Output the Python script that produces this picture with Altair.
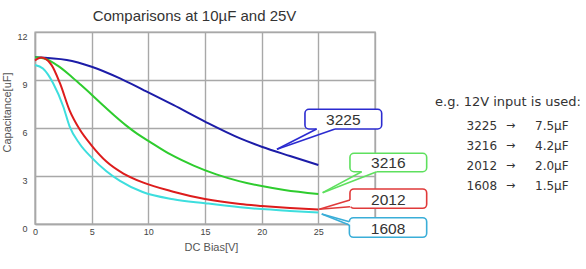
import altair as alt
import pandas as pd

# ---- curve data (DC bias [V] -> capacitance [uF]) ----
series_names = ["3225", "3216", "2012", "1608"]
series_colors = ["#1c1ca8", "#2ecc2e", "#dd1c1c", "#3ddede"]

v_3225 = [0, 2.8, 5, 7.5, 9.5, 12.2, 15, 18.1, 20, 22.5, 25]
c_3225 = [10.42, 10.25, 9.83, 9.1, 8.4, 7.44, 6.4, 5.35, 4.83, 4.25, 3.69]

v_3216 = [0, 1, 2, 3, 4, 5, 6, 7, 8, 9, 10, 12, 14, 16, 18, 20, 22, 25]
c_3216 = [10.42, 10.3, 9.9, 9.35, 8.72, 8.08, 7.42, 6.78, 6.18, 5.65, 5.2, 4.33, 3.65, 3.1, 2.68, 2.37, 2.13, 1.88]

v_2012 = [0, 0.55, 1.45, 2.2, 3.05, 3.95, 5, 6.3, 7.8, 9.5, 12.2, 15, 18.1, 20, 22.5, 25]
c_2012 = [10.22, 10.4, 9.95, 8.8, 7.1, 5.9, 4.9, 3.9, 3.15, 2.6, 2.02, 1.56, 1.25, 1.13, 1.0, 0.9]

v_1608 = [0, 0.7, 1.6, 2.5, 3.05, 3.95, 5, 6.3, 7.5, 9.5, 12.2, 15, 18.1, 20, 22.5, 25]
c_1608 = [9.94, 9.72, 8.8, 7.33, 6.1, 5.0, 4.15, 3.3, 2.7, 2.0, 1.55, 1.3, 1.05, 0.93, 0.82, 0.72]

x_ticks = [0, 5, 10, 15, 20, 25, 30]
y_ticks = [0, 3, 6, 9, 12]

# ---- callouts (in data units) ----
box_colors = ["#2b2bd0", "#5ee05e", "#e03a3a", "#3aaed8"]
box_x1 = [23.82, 27.79, 27.79, 27.74]
box_x2 = [30.59, 34.56, 34.56, 34.56]
box_top = [7.17, 4.42, 2.19, 0.39]
box_bot = [5.94, 3.27, 0.98, -0.83]
tip_x = [21.35, 25.38, 25.08, 25.3]
tip_y = [4.67, 1.96, 0.92, 0.625]
base1_x = [24.85, 28.82, 27.79, 27.74]
base1_y = [5.94, 3.27, 1.50, 0.14]
base2_x = [26.47, 30.15, 27.79, 27.74]
base2_y = [5.94, 3.27, 1.08, -0.06]

# ---- right-hand note ----
note_title = "e.g. 12V input is used:"
note_sizes = ["3225", "3216", "2012", "1608"]
note_values = ["7.5µF", "4.2µF", "2.0µF", "1.5µF"]

rows = []
for name, vs, cs in [("3225", v_3225, c_3225), ("3216", v_3216, c_3216),
                     ("2012", v_2012, c_2012), ("1608", v_1608, c_1608)]:
    for v, c in zip(vs, cs):
        rows.append({"series": name, "V": v, "C": c})
curves = pd.DataFrame(rows)

boxes = pd.DataFrame({"label": series_names, "color": box_colors,
                      "x1": box_x1, "x2": box_x2, "y1": box_top, "y2": box_bot})
boxes["xc"] = (boxes["x1"] + boxes["x2"]) / 2
boxes["yc"] = (boxes["y1"] + boxes["y2"]) / 2

seg_rows = []
cover_rows = []
for i in range(4):
    seg_rows.append({"x": base1_x[i], "y": base1_y[i], "x2": tip_x[i], "y2": tip_y[i], "color": box_colors[i]})
    seg_rows.append({"x": base2_x[i], "y": base2_y[i], "x2": tip_x[i], "y2": tip_y[i], "color": box_colors[i]})
    cover_rows.append({"x": base1_x[i], "y": base1_y[i], "x2": base2_x[i], "y2": base2_y[i]})
segs = pd.DataFrame(seg_rows)
covers = pd.DataFrame(cover_rows)

xscale = alt.Scale(domain=[0, 30], nice=False, zero=False)
yscale = alt.Scale(domain=[0, 12], nice=False, zero=False)

FONT = "Liberation Sans"

lines = alt.Chart(curves).mark_line(interpolate="monotone", strokeWidth=2).encode(
    x=alt.X("V:Q", scale=xscale, axis=alt.Axis(
        values=x_ticks, title="DC Bias[V]", grid=True, gridColor="#a8a8a8", gridWidth=1.4,
        domainColor="#a8a8a8", domainWidth=1.4, tickSize=0, labelPadding=3,
        labelFontSize=9, labelColor="#444", labelFont=FONT, labelFlush=False,
        labelExpr="datum.value == 30 ? '' : datum.label",
        titleFont=FONT, titleFontSize=11, titleFontWeight="normal", titleColor="#555",
        titleX=176, titleY=26.5, titleBaseline="alphabetic")),
    y=alt.Y("C:Q", scale=yscale, axis=alt.Axis(
        values=y_ticks, title="Capacitance[uF]", grid=True, gridColor="#a8a8a8", gridWidth=1.4,
        domainColor="#a8a8a8", domainWidth=1.4, tickSize=0, labelPadding=8,
        labelFontSize=9, labelColor="#444", labelFont=FONT, labelBaseline="top",
        labelFlush=False,
        titleFont=FONT, titleFontSize=11, titleFontWeight="normal", titleColor="#555",
        titleX=-28, titleY=80, titleAngle=270, titleAlign="center", titleBaseline="middle")),
    color=alt.Color("series:N", scale=alt.Scale(domain=series_names, range=series_colors), legend=None),
)

rects = alt.Chart(boxes).mark_rect(fill="white", strokeWidth=1.6, cornerRadius=4).encode(
    x=alt.X("x1:Q", scale=xscale), x2="x2:Q",
    y=alt.Y("y1:Q", scale=yscale), y2="y2:Q",
    stroke=alt.Stroke("color:N", scale=None),
)

cover = alt.Chart(covers).mark_rule(color="white", strokeWidth=2.6).encode(
    x=alt.X("x:Q", scale=xscale), x2="x2:Q",
    y=alt.Y("y:Q", scale=yscale), y2="y2:Q",
)

tails = alt.Chart(segs).mark_rule(strokeWidth=1.6).encode(
    x=alt.X("x:Q", scale=xscale), x2="x2:Q",
    y=alt.Y("y:Q", scale=yscale), y2="y2:Q",
    color=alt.Color("color:N", scale=None),
)

labels = alt.Chart(boxes).mark_text(font=FONT, fontSize=15.5, color="#333", baseline="middle", dy=1).encode(
    x=alt.X("xc:Q", scale=xscale), y=alt.Y("yc:Q", scale=yscale), text="label:N",
)

one = pd.DataFrame({"k": [0]})

title = alt.Chart(one).mark_text(
    font=FONT, fontSize=15, color="#333", align="center", baseline="alphabetic",
    text="Comparisons at 10µF and 25V"
).encode(x=alt.value(159.5), y=alt.value(-11.3))

note_layers = [alt.Chart(one).mark_text(
    font="DejaVu Sans", fontSize=13, color="#333", align="left", baseline="middle",
    text=note_title
).encode(x=alt.value(400), y=alt.value(69.5))]

for i, (s, val) in enumerate(zip(note_sizes, note_values)):
    yy = 93.5 + 20 * i
    note_layers.append(alt.Chart(one).mark_text(
        font="DejaVu Sans", fontSize=12, color="#333", align="left", baseline="middle", text=s
    ).encode(x=alt.value(431.5), y=alt.value(yy)))
    note_layers.append(alt.Chart(one).mark_text(
        font="DejaVu Sans", fontSize=11, color="#333", align="center", baseline="middle", text="→"
    ).encode(x=alt.value(475.5), y=alt.value(yy)))
    note_layers.append(alt.Chart(one).mark_text(
        font="DejaVu Sans", fontSize=12, color="#333", align="left", baseline="middle", text=val
    ).encode(x=alt.value(500), y=alt.value(yy)))

chart = alt.layer(
    lines, rects, cover, tails, labels, title, *note_layers
).properties(
    width=340, height=192,
    autosize=alt.AutoSizeParams(type="none"),
    padding={"left": 35, "top": 32, "right": 211, "bottom": 45},
    background="white",
).configure_view(stroke="#a8a8a8", strokeWidth=1.4)

chart.save("out.html", embed_options={"renderer": "svg", "actions": False})
